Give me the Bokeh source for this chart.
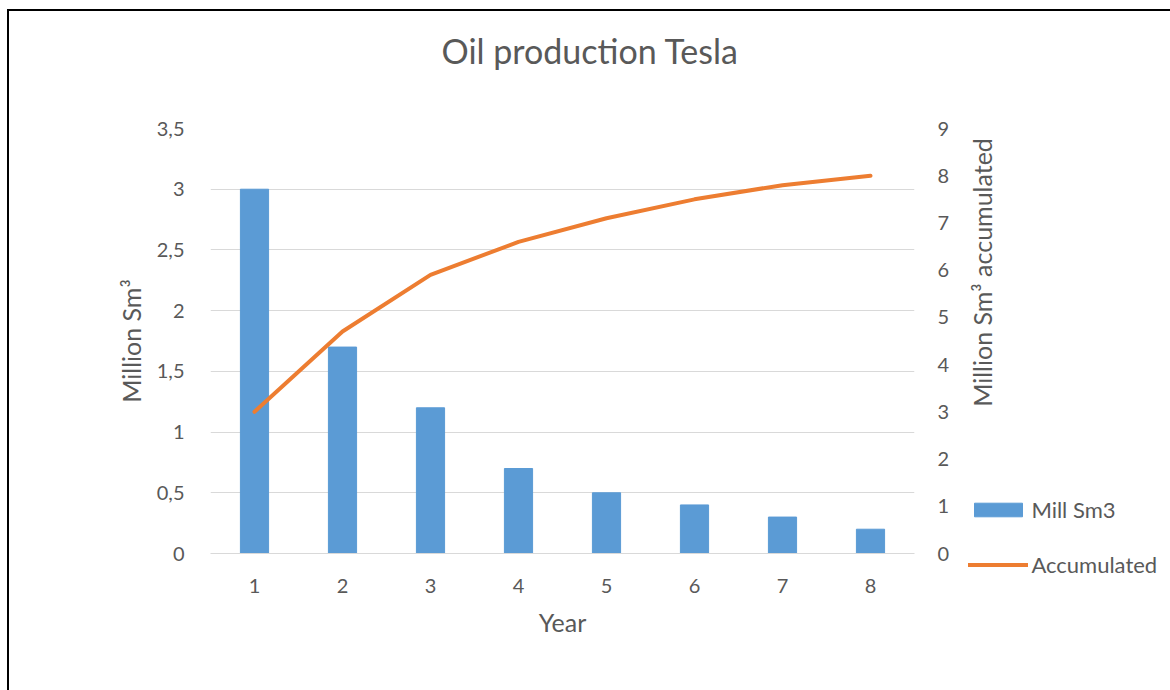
import math
from bokeh.plotting import figure
from bokeh.models import Range1d, LinearAxis, FixedTicker, Legend, LegendItem, Label, Title
from bokeh.embed import file_html
from bokeh.resources import INLINE

# ---- data ----
years = [1, 2, 3, 4, 5, 6, 7, 8]
mill_sm3 = [3.0, 1.7, 1.2, 0.7, 0.5, 0.4, 0.3, 0.2]
accumulated = [3.0, 4.7, 5.9, 6.6, 7.1, 7.5, 7.8, 8.0]
left_ticks = [0, 0.5, 1, 1.5, 2, 2.5, 3, 3.5]
left_tick_labels = ["0", "0,5", "1", "1,5", "2", "2,5", "3", "3,5"]
right_ticks = [0, 1, 2, 3, 4, 5, 6, 7, 8, 9]
title_text = "Oil production Tesla"
x_label = "Year"
left_label = "Million Sm³"
right_label = "Million Sm³ accumulated"
series_names = ["Mill Sm3", "Accumulated"]

FONT = "Lato"
TXT = "#595959"
GRID = "#D9D9D9"
BLUE = "#5B9BD5"
ORANGE = "#ED7D31"
TICK_FS = "20px"
AXT_FS = "25px"
LEG_FS = "22px"

p = figure(frame_width=704, frame_height=425,
           x_range=Range1d(0.5, 8.5), y_range=Range1d(0, 3.5),
           output_backend="svg", toolbar_location=None,
           min_border_left=201, min_border_right=256,
           min_border_top=117, min_border_bottom=139,
           outline_line_color=None, background_fill_color="white",
           border_fill_color="white")
p.styles = {"margin-left": "7px", "margin-top": "9px",
            "border-left": "2px solid #000", "border-top": "2px solid #000"}
p.extra_y_ranges = {"acc": Range1d(0, 9)}

# title (a blank spacer title sits between it and the plot area)
p.title = Title(text=title_text, align="left", offset=231, standoff=0,
                text_font=FONT, text_font_size="34px", text_font_style="normal",
                text_color=TXT)
p.add_layout(Title(text=" ", text_font_size="1px", standoff=55), "above")

bars = p.vbar(x=years, top=mill_sm3, width=0.32, fill_color=BLUE, line_color=BLUE)
line = p.line(x=years, y=accumulated, y_range_name="acc", line_color=ORANGE,
              line_width=4, line_cap="round", line_join="round")

# x axis
xa = p.xaxis[0]
xa.ticker = FixedTicker(ticks=years)
xa.axis_label = x_label
xa.axis_line_color = GRID
xa.major_tick_line_color = None
xa.minor_tick_line_color = None
xa.major_label_standoff = 19
xa.axis_label_standoff = 11
xa.major_label_text_font = FONT
xa.major_label_text_font_size = TICK_FS
xa.major_label_text_color = TXT
xa.axis_label_text_font = FONT
xa.axis_label_text_font_size = AXT_FS
xa.axis_label_text_font_style = "normal"
xa.axis_label_text_color = TXT

# left axis
ya = p.yaxis[0]
ya.ticker = FixedTicker(ticks=left_ticks)
ya.major_label_overrides = {t: s for t, s in zip(left_ticks, left_tick_labels)}
ya.axis_label = left_label
ya.axis_line_color = None
ya.major_tick_line_color = None
ya.minor_tick_line_color = None
ya.major_label_standoff = 20
ya.axis_label_standoff = 8
ya.major_label_text_font = FONT
ya.major_label_text_font_size = TICK_FS
ya.major_label_text_color = TXT
ya.axis_label_text_font = FONT
ya.axis_label_text_font_size = AXT_FS
ya.axis_label_text_font_style = "normal"
ya.axis_label_text_color = TXT

# right axis
ra = LinearAxis(y_range_name="acc", ticker=FixedTicker(ticks=right_ticks))
ra.axis_line_color = None
ra.major_tick_line_color = None
ra.minor_tick_line_color = None
ra.major_label_standoff = 17
ra.major_label_text_font = FONT
ra.major_label_text_font_size = TICK_FS
ra.major_label_text_color = TXT
p.add_layout(ra, "right")

p.xgrid.grid_line_color = None
p.ygrid.grid_line_color = GRID
p.ygrid.grid_line_width = 1

legend = Legend(items=[LegendItem(label=series_names[0], renderers=[bars]),
                       LegendItem(label=series_names[1], renderers=[line])],
                location=(-131, -25), orientation="vertical",
                glyph_width=60, glyph_height=17, label_standoff=3,
                label_height=20, spacing=28, padding=0, margin=0,
                border_line_color=None, background_fill_alpha=0,
                label_text_font=FONT, label_text_font_size=LEG_FS,
                label_text_color=TXT)
p.add_layout(legend, "right")

# right axis title, reading bottom-to-top, placed higher as in the reference
p.add_layout(Label(x=-600, y=281, x_units="screen", y_units="screen",
                   text=right_label, angle=math.pi / 2,
                   text_align="center", text_baseline="middle",
                   text_font=FONT, text_font_size=AXT_FS, text_color=TXT), "right")

html = file_html(p, INLINE)
html = html.replace("<body>", '<body style="overflow:hidden">', 1)
open("out.html", "w").write(html)
